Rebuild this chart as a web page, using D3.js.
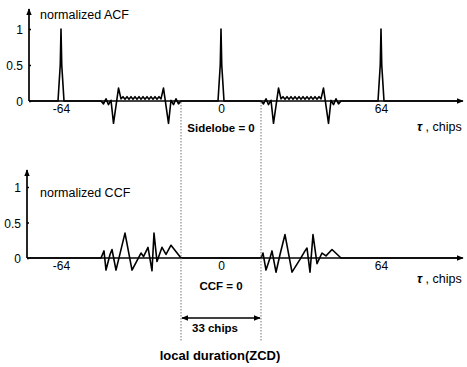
<!DOCTYPE html>
<html>
<meta charset="utf-8">
<style>
body { margin: 0; background: #fff; }
text { font-family: "Liberation Sans", Arial, sans-serif; fill: #000; }
.tick text { font-size: 12px; }
.bold { font-weight: bold; }
</style>
<svg width="467" height="367"></svg>
<script src="https://d3js.org/d3.v7.min.js"></script>
<script>

var xTicks = [-64, 0, 64];
var yTicks = [0, 0.5, 1];
var yTickLabels = ["0", "0.5", "1"];

var acfLags = [-76.8, -65.2, -64.3, -64, -63.7, -62.8, -48, -47, -46, -45, -44, -43, -41,
  -40, -39.2, -38.4, -37.6, -36.8, -36, -35.2, -34.4, -33.6, -32.8, -32, -31.2, -30.4, -29.6, -28.8, -28, -27.2, -26.4, -25.6, -24.8, -24,
  -23, -21, -20, -19, -18, -17, -16,
  -1.2, -0.3, 0, 0.3, 1.2,
  16, 17, 18, 19, 20, 21, 23,
  24, 24.8, 25.6, 26.4, 27.2, 28, 28.8, 29.6, 30.4, 31.2, 32, 32.8, 33.6, 34.4, 35.2, 36, 36.8, 37.6, 38.4, 39.2, 40,
  41, 43, 44, 45, 46, 47, 48,
  62.8, 63.7, 64, 64.3, 65.2, 96];
var acfValues = [0, 0, 0.5, 1, 0.5, 0, 0, -0.04, 0.03, -0.05, 0.01, -0.31, 0.18,
  0.03, 0.06, 0.025, 0.06, 0.025, 0.06, 0.025, 0.06, 0.025, 0.06, 0.025, 0.06, 0.025, 0.06, 0.025, 0.06, 0.025, 0.06, 0.025, 0.06, 0.03,
  0.18, -0.31, 0.01, -0.05, 0.03, -0.04, 0,
  0, 0.5, 1, 0.5, 0,
  0, -0.04, 0.03, -0.05, 0.01, -0.31, 0.18,
  0.03, 0.06, 0.025, 0.06, 0.025, 0.06, 0.025, 0.06, 0.025, 0.06, 0.025, 0.06, 0.025, 0.06, 0.025, 0.06, 0.025, 0.06, 0.025, 0.06, 0.03,
  0.18, -0.31, 0.01, -0.05, 0.03, -0.04, 0,
  0, 0.5, 1, 0.5, 0, 0];

var ccfLags = [-77.6, -48, -46.8, -46, -44.4, -43.6, -42, -38.4, -35.6, -32, -31, -29.2, -27.6, -26.8, -25.6, -23.6, -22, -20, -16,
  16, 16.8, 18, 19.6, 20.4, 22, 23.6, 25.6, 28.4, 31.6, 33.6, 34.4, 35.6, 36.8, 38.4, 40.4, 42, 44.4, 48, 96];
var ccfValues = [0, 0, 0.1, -0.17, 0.05, 0.12, -0.17, 0.35, -0.17, 0.07, 0.02, 0.15, -0.18, 0.35, -0.05, 0.15, 0.05, 0.18, 0,
  0, 0.07, -0.17, 0, 0.1, -0.2, 0.05, 0.33, -0.2, -0.02, 0.1, 0.14, -0.2, 0.33, -0.08, 0.07, 0.03, 0.12, 0, 0];

var zcdLags = [-16, 16];

var svg = d3.select("svg");

var defs = svg.append("defs");
defs.append("marker")
    .attr("id", "arr")
    .attr("viewBox", "0 0 10 10")
    .attr("refX", 9).attr("refY", 5)
    .attr("markerWidth", 7).attr("markerHeight", 7)
    .attr("markerUnits", "userSpaceOnUse")
    .attr("orient", "auto-start-reverse")
  .append("path")
    .attr("d", "M0,1L10,5L0,9Z")
    .attr("fill", "#000");

var x = d3.scaleLinear().domain([-64, 64]).range([61, 381]);

var panels = [
  {lags: acfLags, vals: acfValues, y0: 101, y1: 29, axisX: 29, axisTop: 9, name: "normalized ACF", nameY: 19, note: "Sidelobe = 0", noteY: 132, tauY: 131},
  {lags: ccfLags, vals: ccfValues, y0: 258, y1: 187, axisX: 27, axisTop: 170, name: "normalized CCF", nameY: 197, note: "CCF = 0", noteY: 290, tauY: 283}
];

panels.forEach(function(p) {
  var y = d3.scaleLinear().domain([0, 1]).range([p.y0, p.y1]);
  var g = svg.append("g");

  // y axis with arrow
  g.append("line")
      .attr("x1", p.axisX).attr("x2", p.axisX)
      .attr("y1", p.y0).attr("y2", p.axisTop)
      .attr("stroke", "#000").attr("stroke-width", 1.7)
      .attr("marker-end", "url(#arr)");

  var ya = g.append("g")
      .attr("transform", "translate(" + p.axisX + ",0)")
      .call(d3.axisLeft(y).tickValues(yTicks).tickSizeInner(-2).tickSizeOuter(0).tickPadding(6)
        .tickFormat(function(d, i) { return yTickLabels[i]; }));
  ya.select(".domain").remove();
  ya.selectAll(".tick line").attr("stroke", "#000").attr("stroke-width", 1.5);
  ya.selectAll(".tick text").style("font-size", "12px").attr("dy", "0.4em");

  // x axis with arrow
  g.append("line")
      .attr("x1", p.axisX).attr("x2", 463)
      .attr("y1", p.y0).attr("y2", p.y0)
      .attr("stroke", "#000").attr("stroke-width", 1.7)
      .attr("marker-end", "url(#arr)");

  var xa = g.append("g")
      .attr("transform", "translate(0," + p.y0 + ")")
      .call(d3.axisBottom(x).tickValues(xTicks).tickSize(0).tickPadding(3)
        .tickFormat(function(d) { return d; }));
  xa.select(".domain").remove();
  xa.selectAll(".tick text").style("font-size", "12px");

  // curve
  var pts = p.lags.map(function(l, i) { return [l, p.vals[i]]; });
  g.append("path")
      .datum(pts)
      .attr("fill", "none")
      .attr("stroke", "#000")
      .attr("stroke-width", 1.6)
      .attr("stroke-linejoin", "round")
      .attr("d", d3.line().x(function(d) { return x(d[0]); }).y(function(d) { return y(d[1]); }));

  g.append("text")
      .attr("x", 40).attr("y", p.nameY)
      .style("font-size", "12.5px")
      .text(p.name);

  g.append("text")
      .attr("x", 417).attr("y", p.tauY)
      .style("font-size", "12.5px")
      .html('<tspan font-weight="bold" font-style="italic">\u03c4</tspan> , chips');

  g.append("text")
      .attr("class", "bold")
      .attr("x", x(0)).attr("y", p.noteY)
      .attr("text-anchor", "middle")
      .style("font-size", "11.5px")
      .text(p.note);
});

// zero-correlation zone markers
svg.selectAll(".zcd")
  .data(zcdLags)
  .enter().append("line")
    .attr("class", "zcd")
    .attr("x1", function(d) { return x(d); }).attr("x2", function(d) { return x(d); })
    .attr("y1", 102).attr("y2", 341)
    .attr("stroke", "#777").attr("stroke-width", 1)
    .attr("stroke-dasharray", "1.5,1.5");

svg.append("line")
    .attr("x1", x(zcdLags[0]) + 1).attr("x2", x(zcdLags[1]) - 1)
    .attr("y1", 318).attr("y2", 318)
    .attr("stroke", "#000").attr("stroke-width", 1.3)
    .attr("marker-start", "url(#arr)")
    .attr("marker-end", "url(#arr)");

svg.append("text")
    .attr("class", "bold")
    .attr("x", 215).attr("y", 332)
    .attr("text-anchor", "middle")
    .style("font-size", "11.5px")
    .text("33 chips");

svg.append("text")
    .attr("class", "bold")
    .attr("x", 220).attr("y", 360)
    .attr("text-anchor", "middle")
    .style("font-size", "13px")
    .text("local duration(ZCD)");

</script>
</html>
